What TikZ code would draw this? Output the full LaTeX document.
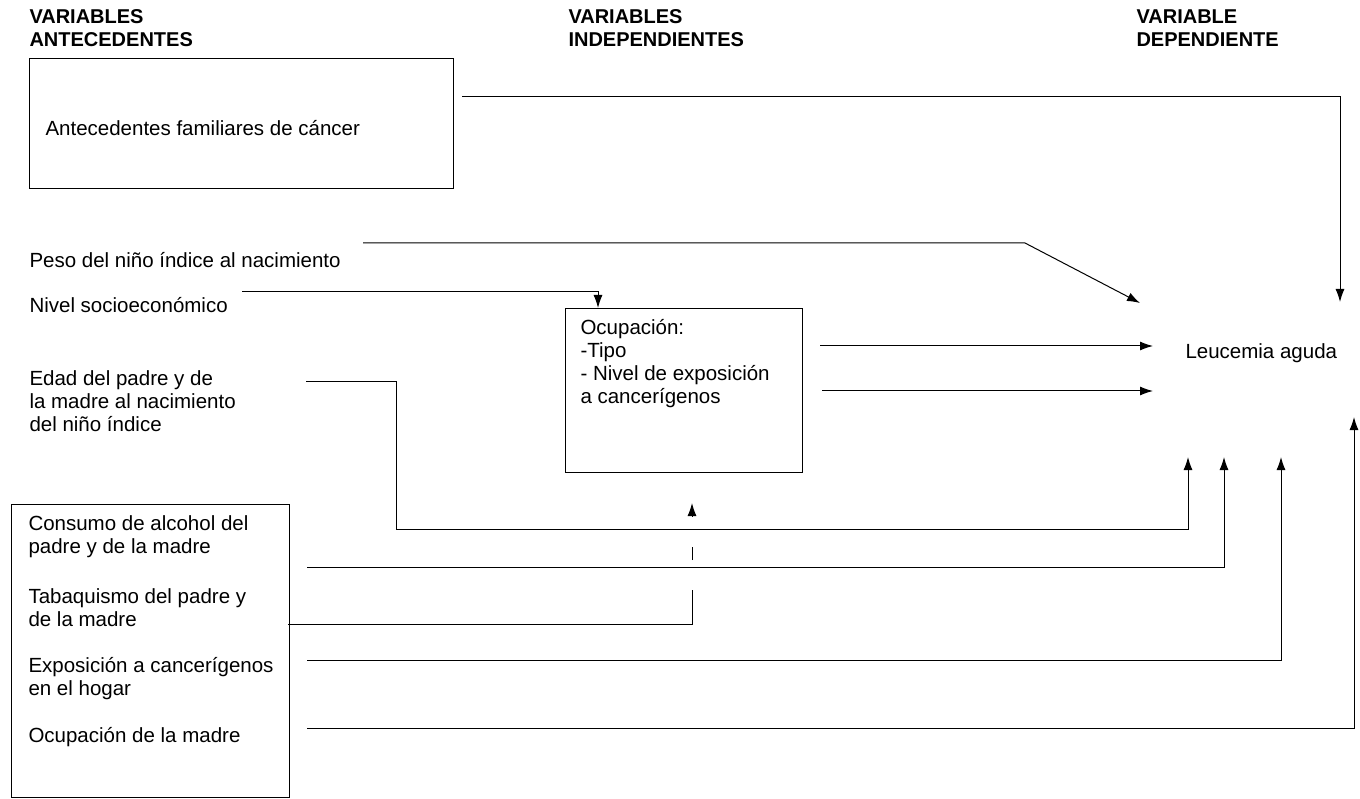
\documentclass[tikz,border=0pt]{standalone}
\usepackage{fontspec}
\setmainfont{Liberation Sans}
\usetikzlibrary{arrows.meta}

\begin{document}
\begin{tikzpicture}[x=1pt, y=-1pt, line width=1pt, >={Latex[length=13pt,width=9pt]},
    txt/.style={inner sep=0pt, anchor=west, align=left, font=\fontsize{20.5}{23}\selectfont},
    head/.style={txt, font=\fontsize{20}{23}\selectfont\bfseries},
    box/.style={draw, inner sep=0pt, anchor=north west}]
    \useasboundingbox (0,0) rectangle (1360,799);
    % headers
    \node[head] (hant) at (29,28) {VARIABLES\\ANTECEDENTES};
    \node[head] (hind) at (568,28) {VARIABLES\\INDEPENDIENTES};
    \node[head] (hdep) at (1136,28) {VARIABLE\\DEPENDIENTE};
    % boxes
    \node[box, minimum width=424, minimum height=130] (fam) at (29,58) {};
    \node[box, minimum width=237, minimum height=164] (ocup) at (565,308) {};
    \node[box, minimum width=278, minimum height=293] (riesgo) at (11,504) {};
    % texts
    \node[txt] (famtxt) at (45,128) {Antecedentes familiares de cáncer};
    \node[txt] (peso) at (29,260) {Peso del niño índice al nacimiento};
    \node[txt] (nivel) at (29,305) {Nivel socioeconómico};
    \node[txt] (edad) at (29,401) {Edad del padre y de\\la madre al nacimiento\\del niño índice};
    \node[txt] (ocuptxt) at (580,364) {Ocupación:\\-Tipo\\- Nivel de exposición\\a cancerígenos};
    \node[txt] (leu) at (1185,353) {Leucemia aguda};
    \node[txt] (alc) at (28,537) {Consumo de alcohol del\\padre y de la madre};
    \node[txt] (tab) at (28,608) {Tabaquismo del padre y\\de la madre};
    \node[txt] (expo) at (28,679) {Exposición a cancerígenos\\en el hogar};
    \node[txt] (madre) at (28,737) {Ocupación de la madre};
    % line ends
    \coordinate (famout) at (462,97);
    \coordinate (pesoout) at (363,243);
    \coordinate (nivelout) at (242,292);
    \coordinate (edadout) at (306,382);
    \coordinate (alcout) at (307,567);
    \coordinate (tabout) at (288,624);
    \coordinate (expoout) at (307,660);
    \coordinate (madreout) at (307,728);
    \coordinate (ocupout1) at (820,346);
    \coordinate (ocupout2) at (822,391);
    \coordinate (leuin1) at (1153,346);
    \coordinate (leuin2) at (1153,391);
    \coordinate (leupeso) at (1140,303);
    \coordinate (leufam) at (1340,302);
    \coordinate (leuedad) at (1188,457);
    \coordinate (leualc) at (1224,457);
    \coordinate (leuexpo) at (1281,457);
    \coordinate (leumadre) at (1354,417);
    % antecedentes -> leucemia
    \draw[->] (famout) -| (leufam);
    \draw[->] (pesoout) -- (1025,243) -- (leupeso);
    \draw[->] (nivelout) -| (ocup.north -| 598,0);
    \draw[->] (edadout) -| (396,529) -| (leuedad);
    \draw[->] (alcout) -| (leualc);
    \draw[->] (expoout) -| (leuexpo);
    \draw[->] (madreout) -| (leumadre);
    % tabaquismo -> ocupacion (broken where it crosses)
    \draw (tabout) -| (692,590);
    \draw (692,560) -- (692,547);
    \draw[->] (692,516) -- (692,503);
    % ocupacion -> leucemia
    \draw[->] (ocupout1) -- (leuin1);
    \draw[->] (ocupout2) -- (leuin2);
\end{tikzpicture}
\end{document}
